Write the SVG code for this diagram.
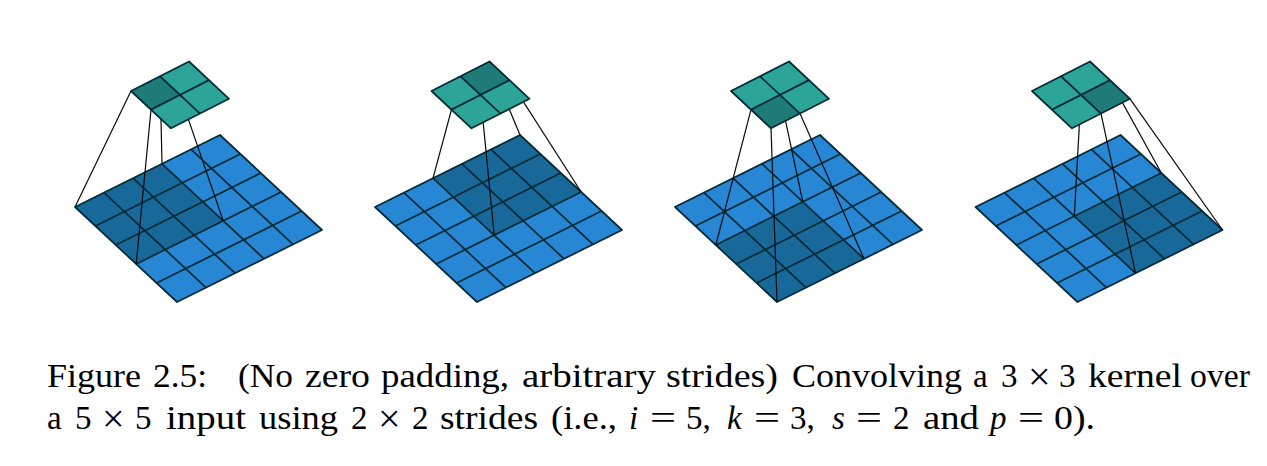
<svg xmlns="http://www.w3.org/2000/svg" width="1267" height="466" viewBox="0 0 1267 466">
<style>
.inp{fill:#2787d4}
.inh{fill:#18699a}
.out{fill:#2ca498}
.outh{fill:#1e7b77}
.edge{fill:none;stroke:#042c38;stroke-width:1.8;stroke-linejoin:round}
.conn line{stroke:#0a0a0a;stroke-width:1.2}
text{font-family:"Liberation Serif","Times New Roman",serif;font-size:33px;fill:#000}
.m{font-style:italic}
.x{font-size:40px}
</style>
<defs>
<path id="ingrid" class="edge" d="M75 207L220 135L322 230L177 302ZM104 192.6L206 287.6M133 178.2L235 273.2M162 163.8L264 258.8M191 149.4L293 244.4M95.4 226L240.4 154M115.8 245L260.8 173M136.2 264L281.2 192M156.6 283L301.6 211"/>
<polygon id="inbase" class="inp" points="75,207 220,135 322,230 177,302"/>
<path id="outgrid" class="edge" d="M131 91L189 61.5L229 98.8L171 128.3ZM160 76.25L200 113.55M151 109.65L209 80.15"/>
<polygon id="outbase" class="out" points="131,91 189,61.5 229,98.8 171,128.3"/>
</defs>
<rect width="1267" height="466" fill="#fff"/>

<g id="input-1"><use href="#inbase"/><polygon class="inh" points="75,207 162,163.8 223.2,220.8 136.2,264"/><use href="#ingrid"/></g>
<g id="input-2" transform="translate(300 0)"><use href="#inbase"/><polygon class="inh" points="133,178.2 220,135 281.2,192 194.2,235.2"/><use href="#ingrid"/></g>
<g id="input-3" transform="translate(600 0)"><use href="#inbase"/><polygon class="inh" points="115.8,245 202.8,201.8 264,258.8 177,302"/><use href="#ingrid"/></g>
<g id="input-4" transform="translate(900.5 0)"><use href="#inbase"/><polygon class="inh" points="173.8,216.2 260.8,173 322,230 235,273.2"/><use href="#ingrid"/></g>

<g id="connectors" class="conn">
<line x1="131" y1="91" x2="75" y2="207"/>
<line x1="160" y1="76.25" x2="162" y2="163.8"/>
<line x1="180" y1="94.9" x2="223.2" y2="220.8"/>
<line x1="151" y1="109.65" x2="136.2" y2="264"/>
<line x1="460.5" y1="76.25" x2="433" y2="178.2"/>
<line x1="489.5" y1="61.5" x2="520" y2="135"/>
<line x1="509.5" y1="80.15" x2="581.2" y2="192"/>
<line x1="480.5" y1="94.9" x2="494.2" y2="235.2"/>
<line x1="751" y1="109.65" x2="715.8" y2="245"/>
<line x1="780" y1="94.9" x2="802.8" y2="201.8"/>
<line x1="800" y1="113.55" x2="864" y2="258.8"/>
<line x1="771" y1="128.3" x2="777" y2="302"/>
<line x1="1081" y1="94.9" x2="1074.3" y2="216.2"/>
<line x1="1110" y1="80.15" x2="1161.3" y2="173"/>
<line x1="1130" y1="98.8" x2="1222.5" y2="230"/>
<line x1="1101" y1="113.55" x2="1135.5" y2="273.2"/>
</g>

<g id="output-1"><use href="#outbase"/><polygon class="outh" points="131,91 160,76.25 180,94.9 151,109.65"/><use href="#outgrid"/></g>
<g id="output-2" transform="translate(300.5 0)"><use href="#outbase"/><polygon class="outh" points="160,76.25 189,61.5 209,80.15 180,94.9"/><use href="#outgrid"/></g>
<g id="output-3" transform="translate(600 0)"><use href="#outbase"/><polygon class="outh" points="151,109.65 180,94.9 200,113.55 171,128.3"/><use href="#outgrid"/></g>
<g id="output-4" transform="translate(901 0)"><use href="#outbase"/><polygon class="outh" points="180,94.9 209,80.15 229,98.8 200,113.55"/><use href="#outgrid"/></g>

<g id="caption">
<text y="387"><tspan x="47" textLength="94" lengthAdjust="spacingAndGlyphs">Figure</tspan> <tspan x="153" textLength="54" lengthAdjust="spacingAndGlyphs">2.5:</tspan> <tspan x="238" textLength="55" lengthAdjust="spacingAndGlyphs">(No</tspan> <tspan x="305" textLength="65" lengthAdjust="spacingAndGlyphs">zero</tspan> <tspan x="381" textLength="128" lengthAdjust="spacingAndGlyphs">padding,</tspan> <tspan x="522" textLength="134" lengthAdjust="spacingAndGlyphs">arbitrary</tspan> <tspan x="666" textLength="112" lengthAdjust="spacingAndGlyphs">strides)</tspan> <tspan x="792" textLength="170" lengthAdjust="spacingAndGlyphs">Convolving</tspan> <tspan x="973">a</tspan> <tspan x="1001">3</tspan> <tspan x="1028" y="390" class="x">×</tspan> <tspan x="1059" y="387">3</tspan> <tspan x="1088" textLength="94" lengthAdjust="spacingAndGlyphs">kernel</tspan> <tspan x="1190" textLength="60" lengthAdjust="spacingAndGlyphs">over</tspan></text>
<text y="429"><tspan x="47">a</tspan> <tspan x="75">5</tspan> <tspan x="102" y="432" class="x">×</tspan> <tspan x="135" y="429">5</tspan> <tspan x="166" textLength="80" lengthAdjust="spacingAndGlyphs">input</tspan> <tspan x="259" textLength="79" lengthAdjust="spacingAndGlyphs">using</tspan> <tspan x="351">2</tspan> <tspan x="378" y="432" class="x">×</tspan> <tspan x="412" y="429">2</tspan> <tspan x="440" textLength="98" lengthAdjust="spacingAndGlyphs">strides</tspan> <tspan x="551" textLength="66" lengthAdjust="spacingAndGlyphs">(i.e.,</tspan> <tspan x="629" class="m">i</tspan> <tspan x="650" textLength="26" lengthAdjust="spacingAndGlyphs">=</tspan> <tspan x="686">5,</tspan> <tspan x="727" class="m">k</tspan> <tspan x="754" textLength="26" lengthAdjust="spacingAndGlyphs">=</tspan> <tspan x="790">3,</tspan> <tspan x="832" class="m">s</tspan> <tspan x="856" textLength="26" lengthAdjust="spacingAndGlyphs">=</tspan> <tspan x="893">2</tspan> <tspan x="923" textLength="56" lengthAdjust="spacingAndGlyphs">and</tspan> <tspan x="990" class="m">p</tspan> <tspan x="1018" textLength="26" lengthAdjust="spacingAndGlyphs">=</tspan> <tspan x="1054" textLength="41" lengthAdjust="spacingAndGlyphs">0).</tspan></text>
</g>
</svg>
